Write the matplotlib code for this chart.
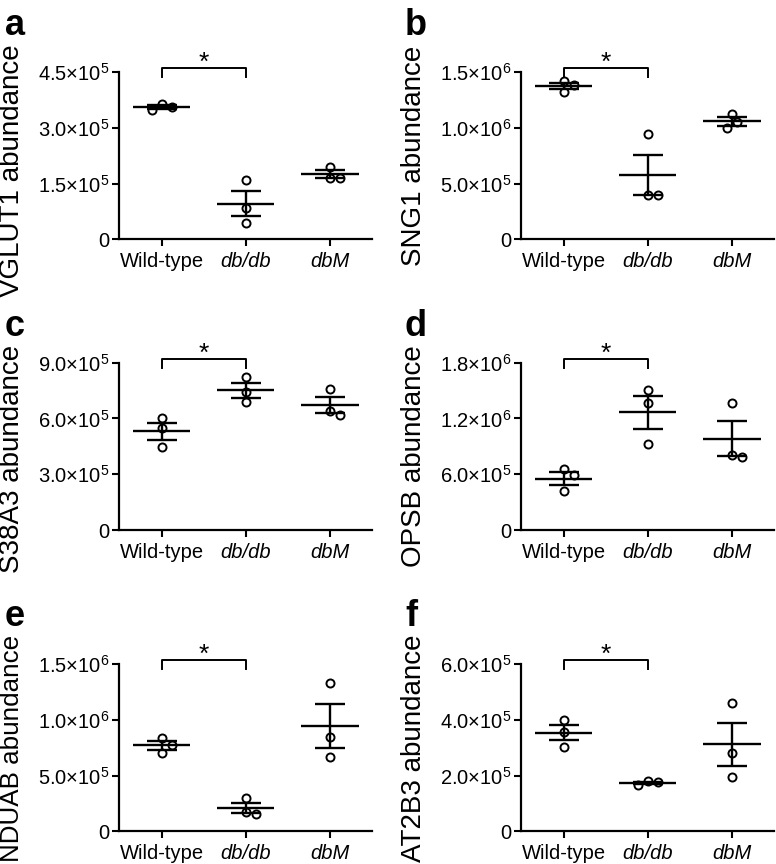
import numpy as np
import matplotlib
matplotlib.use("Agg")
import matplotlib.pyplot as plt
from matplotlib.ticker import FixedLocator, FuncFormatter

plt.rcParams['font.family'] = ['Liberation Sans', 'DejaVu Sans']
plt.rcParams['mathtext.fontset'] = 'custom'
plt.rcParams['mathtext.rm'] = 'Liberation Sans'
plt.rcParams['mathtext.it'] = 'Liberation Sans:italic'
plt.rcParams['mathtext.default'] = 'regular'

# ---------------- data ----------------
groups = ['Wild-type', 'db/db', 'dbM']
group_italic = [False, True, True]
panel_letters = ['a', 'b', 'c', 'd', 'e', 'f']
proteins = ['VGLUT1', 'SNG1', 'S38A3', 'OPSB', 'NDUAB', 'AT2B3']
y_max = [4.5e5, 1.5e6, 9.0e5, 1.8e6, 1.5e6, 6.0e5]
y_step = [1.5e5, 5.0e5, 3.0e5, 6.0e5, 5.0e5, 2.0e5]

vglut1 = [[363.8e3, 346.7e3, 355.7e3], [159.9e3, 85.3e3, 43.1e3], [195.8e3, 164.4e3, 164.4e3]]
sng1 = [[1.4165e6, 1.3867e6, 1.321e6], [0.942e6, 0.3936e6, 0.3996e6], [1.127e6, 1.050e6, 0.996e6]]
s38a3 = [[600.6e3, 546.8e3, 444.6e3], [824.7e3, 742.2e3, 688.4e3], [760.1e3, 641.8e3, 618.5e3]]
opsb = [[652.6e3, 588.0e3, 423.1e3], [1.506e6, 1.3626e6, 0.9287e6], [1.3626e6, 0.7853e6, 0.8068e6]]
nduab = [[836.6e3, 776.9e3, 702.2e3], [298.8e3, 155.4e3, 170.3e3], [1.3297e6, 0.8456e6, 0.6634e6]]
at2b3 = [[398.4e3, 356.7e3, 304.2e3], [178.9e3, 167.0e3, 176.5e3], [460.4e3, 281.5e3, 193.2e3]]
all_values = [vglut1, sng1, s38a3, opsb, nduab, at2b3]
# significance bracket between group indices
sig_pair = (0, 1)
sig_text = '*'

# ---------------- layout ----------------
W, H = 776, 864
fig = plt.figure(figsize=(W / 100, H / 100), dpi=100)

col_left = [119, 521]
ax_w = 253
row_top = [72, 362.7, 664]
ax_h = 167.4
letter_pos = [(5, 35), (405, 35), (5, 336), (405, 336), (5, 626), (405, 626)]


def fmt(v, pos=None):
    if v == 0:
        return '0'
    e = int(np.floor(np.log10(abs(v)) + 1e-9))
    m = v / 10 ** e
    return r'$\mathregular{%.1f{\times}10^{%d}}$' % (m, e)


def swarm_offsets(vals, px_x, px_y, step=5.0, dist=9.0):
    order = np.argsort(vals)[::-1]
    placed = []
    offs = np.zeros(len(vals))
    cands = [0]
    for k in range(1, 6):
        cands += [k * step, -k * step]
    for i in order:
        yi = vals[i] * px_y
        for c in cands:
            ok = True
            for (xo, yo) in placed:
                if np.hypot(c - xo, yi - yo) < dist:
                    ok = False
                    break
            if ok:
                offs[i] = c
                placed.append((c, yi))
                break
    return offs / px_x


lw = 1.7
ylabels = []
letters = []
for p in range(6):
    r, c = divmod(p, 2)
    left = col_left[c] / W
    bottom = 1 - (row_top[r] + ax_h) / H
    ax = fig.add_axes([left, bottom, ax_w / W, ax_h / H])
    ax.set_xlim(-0.51, 2.5)
    ax.set_ylim(0, y_max[p])
    px_x = ax_w / 3.01
    px_y = ax_h / y_max[p]

    for g in range(3):
        vals = np.array(all_values[p][g])
        mean = vals.mean()
        sem = vals.std(ddof=1) / np.sqrt(len(vals))
        offs = swarm_offsets(vals, px_x, px_y)
        ax.plot(g + offs, vals, 'o', ms=5.8, mfc='white', mec='black', mew=1.4,
                zorder=3, clip_on=False)
        ax.plot([g - 0.34, g + 0.34], [mean, mean], color='black', lw=lw, zorder=4,
                solid_capstyle='butt')
        ax.errorbar([g], [mean], yerr=[sem], fmt='none', ecolor='black', elinewidth=lw,
                    capsize=10.5, capthick=lw, zorder=4)

    for s in ['top', 'right']:
        ax.spines[s].set_visible(False)
    for s in ['left', 'bottom']:
        ax.spines[s].set_linewidth(1.6)
    ax.yaxis.set_major_locator(FixedLocator(np.arange(0, y_max[p] + 1, y_step[p])))
    ax.yaxis.set_major_formatter(FuncFormatter(fmt))
    ax.set_xticks(range(3))
    ax.set_xticklabels(groups)
    for lab, it in zip(ax.get_xticklabels(), group_italic):
        if it:
            lab.set_style('italic')
    ax.tick_params(axis='both', width=1.5, length=5, labelsize=14.5, color='black')
    ax.tick_params(axis='y', pad=2)
    ax.tick_params(axis='x', pad=4)

    t = ax.text(-107 / ax_w, 0.5, proteins[p] + ' abundance', transform=ax.transAxes,
                rotation=90, ha='center', va='center', fontsize=20)
    ylabels.append((ax, t))

    # significance bracket
    top = y_max[p] + 4 / px_y
    leg = top - 9 / px_y
    g0, g1 = sig_pair
    ax.plot([g0, g0, g1, g1], [leg, top, top, leg], color='black', lw=1.4, clip_on=False)
    ax.text((g0 + g1) / 2, top - 2 / px_y, sig_text, ha='center', va='baseline',
            fontsize=19, clip_on=False)

    lx, ly = letter_pos[p]
    lt = fig.text(lx / W, 1 - ly / H, panel_letters[p], fontsize=26, fontweight='bold',
                  ha='left', va='baseline')
    letters.append(lt)

# keep y labels clear of the panel letters and inside the figure
fig.canvas.draw()
renderer = fig.canvas.get_renderer()
for p, (ax, t) in enumerate(ylabels):
    lim_top = H - letters[p].get_window_extent(renderer).y0 + 1
    lim_bot = H - 1
    for _ in range(20):
        bb = t.get_window_extent(renderer)
        if (bb.y1 - bb.y0) <= (lim_bot - lim_top):
            break
        t.set_fontsize(t.get_fontsize() - 0.25)
    bb = t.get_window_extent(renderer)
    top_px = H - bb.y1
    bot_px = H - bb.y0
    shift = 0
    if top_px < lim_top:
        shift = lim_top - top_px
    elif bot_px > lim_bot:
        shift = lim_bot - bot_px
    if shift:
        x, y = t.get_position()
        t.set_position((x, y - shift / ax_h))

fig.savefig('out.png', dpi=100)
